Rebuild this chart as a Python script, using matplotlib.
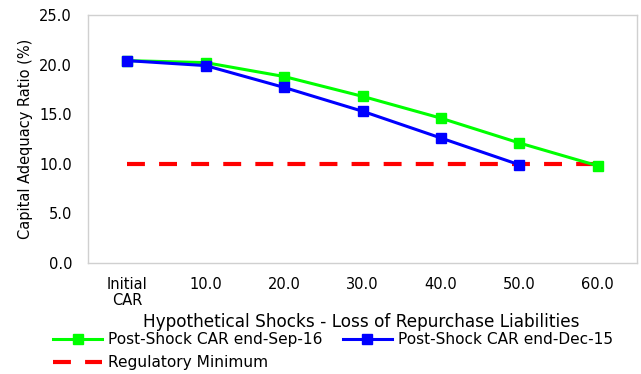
import matplotlib
matplotlib.use("Agg")
import matplotlib.pyplot as plt

plt.rcParams['font.family'] = ['DejaVu Sans']

categories = ["Initial\nCAR", "10.0", "20.0", "30.0", "40.0", "50.0", "60.0"]
car_sep16 = [20.4, 20.2, 18.8, 16.8, 14.6, 12.1, 9.8]
car_dec15 = [20.4, 19.9, 17.7, 15.3, 12.6, 9.9]
reg_min = [10.0] * len(categories)
yticks = [0.0, 5.0, 10.0, 15.0, 20.0, 25.0]

fig = plt.figure(figsize=(6.41, 3.74), dpi=100)
ax = fig.add_axes([88 / 641, 1 - 263 / 374, 549 / 641, 248 / 374])

x_all = list(range(len(categories)))
l_reg, = ax.plot(x_all, reg_min, color="#ff0000", lw=3, dashes=(4.3, 3.4),
                 zorder=2, label="Regulatory Minimum")
l_sep, = ax.plot(x_all, car_sep16, color="#00ff00", lw=2.2, marker="s", ms=7.5,
                 zorder=3, label="Post-Shock CAR end-Sep-16")
l_dec, = ax.plot(list(range(len(car_dec15))), car_dec15, color="#0000ff",
                 lw=2.2, marker="s", ms=7.5, zorder=4,
                 label="Post-Shock CAR end-Dec-15")

ax.set_xlim(-0.5, len(categories) - 0.5)
ax.set_ylim(0, 25)
ax.set_yticks(yticks)
ax.set_yticklabels([f"{v:.1f}" for v in yticks], fontsize=10.5)
ax.set_xticks(x_all)
ax.set_xticklabels(categories, fontsize=10.5, linespacing=1.1)
ax.tick_params(axis="y", length=0, pad=11.5)
ax.tick_params(axis="x", length=0, pad=10)
for s in ax.spines.values():
    s.set_color("#d0d0d0")
    s.set_linewidth(1)

ax.set_ylabel("Capital Adequacy Ratio (%)", fontsize=10.5, labelpad=4.5)
fig.text(361.5 / 641, 1 - 322 / 374,
         "Hypothetical Shocks - Loss of Repurchase Liabilities",
         ha="center", va="center", fontsize=12.2)

# two columns filled column-wise: Sep-16 / Reg. Min. in the first, Dec-15 in the second
fig.legend([l_sep, l_reg, l_dec],
           [l_sep.get_label(), l_reg.get_label(), l_dec.get_label()],
           ncol=2, loc="upper left", bbox_to_anchor=(53 / 641, 1 - 332 / 374),
           frameon=False, fontsize=11.1, handlelength=3.2, handletextpad=0.39,
           columnspacing=1.3, labelspacing=0.54, borderaxespad=0, borderpad=0)

fig.savefig("out.png", dpi=100)
